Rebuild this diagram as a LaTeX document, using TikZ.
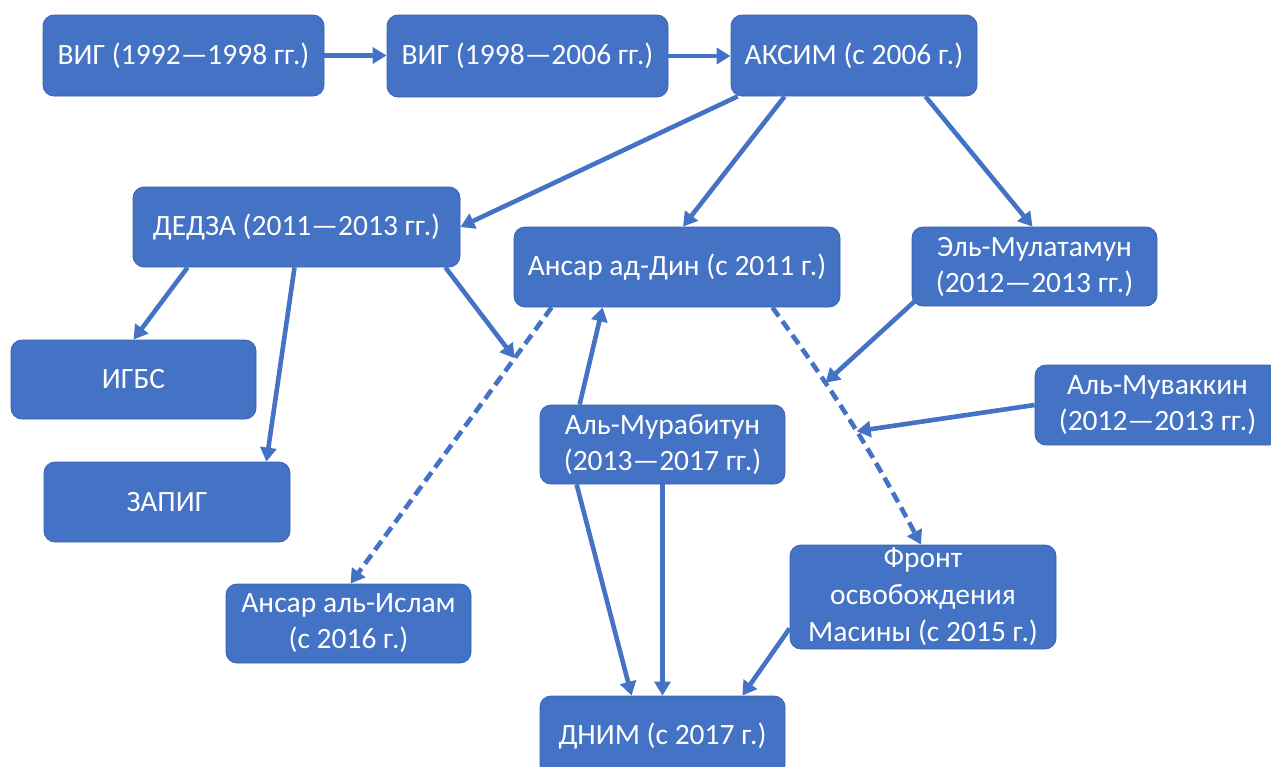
\documentclass[tikz,border=0pt]{standalone}
\usepackage{fontspec}
\setmainfont{Carlito}
\usetikzlibrary{calc,arrows.meta}
\definecolor{boxblue}{HTML}{4472C4}
\definecolor{boxedge}{HTML}{3A62AE}

\begin{document}
\begin{tikzpicture}[x=1pt,y=-1pt,
		box/.style={rectangle,rounded corners=11pt,fill=boxblue,draw=boxedge,line width=0.8pt,text=white,align=center,inner sep=2pt,font=\fontsize{29.5}{36}\selectfont},
		link/.style={draw=boxblue,line width=4.6pt,-{Triangle[length=14pt,width=16pt]}},
		dlink/.style={link,dash pattern=on 11pt off 6pt}]
			\useasboundingbox (0,0) rectangle (1271,766);
			\clip (0,0) rectangle (1271,766);
			\node[box,minimum width=281pt,minimum height=81pt] (vig1) at (183.5,55.5) {ВИГ (1992—1998 гг.)};
			\node[box,minimum width=281pt,minimum height=82pt] (vig2) at (527.5,56) {ВИГ (1998—2006 гг.)};
			\node[box,minimum width=246pt,minimum height=81pt] (aksim) at (854,55.5) {АКСИМ (с 2006 г.)};
			\node[box,minimum width=327pt,minimum height=80pt] (dedza) at (296.5,227) {ДЕДЗА (2011—2013 гг.)};
			\node[box,minimum width=326pt,minimum height=80pt] (ansardin) at (677,267) {Ансар ад-Дин (с 2011 г.)};
			\node[box,minimum width=245pt,minimum height=79pt] (mulat) at (1034.5,266.5) {Эль-Мулатамун\\(2012—2013 гг.)};
			\node[box,minimum width=245pt,minimum height=79pt] (igbs) at (133.5,379.5) {ИГБС};
			\node[box,minimum width=246pt,minimum height=80pt] (zapig) at (167,502) {ЗАПИГ};
			\node[box,minimum width=245pt,minimum height=79pt] (ansarislam) at (348.5,623.5) {Ансар аль-Ислам\\(с 2016 г.)};
			\node[box,minimum width=245pt,minimum height=79pt] (murab) at (662.5,444.5) {Аль-Мурабитун\\(2013—2017 гг.)};
			\node[box,minimum width=245pt,minimum height=80pt] (muvak) at (1157.5,405) {Аль-Муваккин\\(2012—2013 гг.)};
			\node[box,minimum width=266pt,minimum height=104pt,font=\fontsize{29.5}{37}\selectfont] (front) at (923,597) {Фронт\\освобождения\\Масины (с 2015 г.)};
			\node[box,minimum width=245pt,minimum height=80pt] (dnim) at (662.5,736) {ДНИМ (с 2017 г.)};
			\draw[link] (vig1.east) -- (vig1.east -| vig2.west);
			\draw[link] (vig2.east) -- (vig2.east -| aksim.west);
			\draw[link] ([xshift=7pt]aksim.south west) -- (dedza.east);
			\draw[link] ([xshift=54pt]aksim.south west) -- ([xshift=6pt]ansardin.north);
			\draw[link] ([xshift=-52pt]aksim.south east) -- ([xshift=-2pt]mulat.north);
			\draw[link] ([xshift=55pt]dedza.south west) -- (igbs.north);
			\draw[link] ([xshift=-2pt]dedza.south) -- ([xshift=-24pt]zapig.north east);
			\draw[dlink] ([xshift=38pt]ansardin.south west) -- coordinate[pos=0.184] (jd) ([xshift=2pt]ansarislam.north);
			\draw[link] ([xshift=-15pt]dedza.south east) -- (jd);
			\draw[dlink] ([xshift=-68pt]ansardin.south east) to[bend left=4] coordinate[pos=0.315] (jm) coordinate[pos=0.538] (jv) ([xshift=-2pt]front.north);
			\draw[link] ([xshift=4pt,yshift=6pt]mulat.south west) -- (jm);
			\draw[link] (muvak.west) -- (jv);
			\draw[link] ([xshift=40pt]murab.north west) -- ([xshift=89pt]ansardin.south west);
			\draw[link] ([xshift=37pt]murab.south west) -- ([xshift=92pt]dnim.north west);
			\draw[link] (murab.south) -- (dnim.north);
			\draw[link] ([yshift=21pt]front.south west) -- ([xshift=-43pt]dnim.north east);
		\end{tikzpicture}
\end{document}
